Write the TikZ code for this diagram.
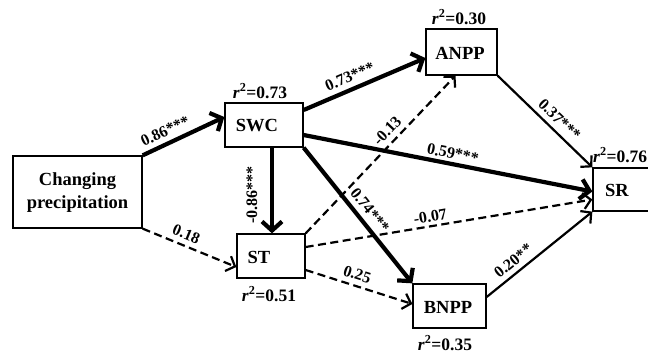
\documentclass[tikz,border=0pt]{standalone}
\usepackage{fontspec}
\setmainfont{Liberation Serif}
\usetikzlibrary{arrows.meta}
\begin{document}
\begin{tikzpicture}[x=1pt,y=-1pt,
  box/.style={draw, line width=1.3pt, inner sep=0pt},
  boxtext/.style={font=\fontsize{18.5}{23}\selectfont\bfseries, align=center, inner sep=0pt},
  rtwo/.style={font=\fontsize{17.5}{19}\selectfont\bfseries, inner sep=0pt},
  elab/.style={font=\fontsize{16}{17}\selectfont\bfseries, inner sep=5pt},
  thickarr/.style={line width=4.2pt, -{Straight Barb[length=9pt,width=20pt]}},
  thinarr/.style={line width=2.2pt, -{Straight Barb[length=7.5pt,width=16pt]}},
  dasharr/.style={line width=2.2pt, dash pattern=on 8pt off 4.5pt, -{Straight Barb[length=7.5pt,width=16pt]}}
]
\useasboundingbox (0,0) rectangle (648,354);
\clip (0,0) rectangle (648,354);
\fill[white] (0,0) rectangle (648,354);

% boxes
\node[box, minimum width=129pt, minimum height=72pt] (CP) at (77.5,192) {};
\node[boxtext] (CPt) at (77.5,193) {Changing\\precipitation};
\node[box, minimum width=78pt, minimum height=44pt] (SWC) at (264,125) {};
\node[boxtext] (SWCt) at (257,126) {SWC};
\node[box, minimum width=71pt, minimum height=46pt] (ANPP) at (461.5,52) {};
\node[boxtext] (ANPPt) at (460,53) {ANPP};
\node[box, minimum width=68pt, minimum height=44pt] (ST) at (271,256) {};
\node[boxtext] (STt) at (259,257) {ST};
\node[box, minimum width=73pt, minimum height=44pt] (BNPP) at (449.5,306) {};
\node[boxtext] (BNPPt) at (448,307) {BNPP};
\node[box, minimum width=80pt, minimum height=43pt] (SR) at (633,189.5) {};
\node[boxtext] (SRt) at (617,190) {SR};

% r^2 labels
\node[rtwo] (r1) at (260,91) {\itshape r\textsuperscript{\upshape 2}\upshape =0.73};
\node[rtwo] (r2) at (459,17) {\itshape r\textsuperscript{\upshape 2}\upshape =0.30};
\node[rtwo] (r3) at (269,294) {\itshape r\textsuperscript{\upshape 2}\upshape =0.51};
\node[rtwo] (r4) at (445,343) {\itshape r\textsuperscript{\upshape 2}\upshape =0.35};
\node[rtwo, anchor=west] (r5) at (593,155) {\itshape r\textsuperscript{\upshape 2}\upshape =0.76};

% connectors
\draw[thickarr] (CP.north east) -- ([yshift=8pt]SWC.west)
  node[elab, pos=0.34, sloped, above] {0.86***};
\draw[dasharr] (CP.south east) -- ([yshift=-11pt]ST.west)
  node[elab, pos=0.42, sloped, above] {0.18};
\draw[thickarr] ([yshift=15pt]SWC.east) -- ([yshift=-6pt]ANPP.west)
  node[elab, pos=0.42, sloped, above] {0.73***};
\draw[thickarr] ([xshift=8pt]SWC.south) -- ([xshift=1pt]ST.north);
\node[elab, rotate=90, inner sep=0pt] (l86) at (252,195) {-0.86***};
\draw[thickarr] ([yshift=-10pt]SWC.east) -- ([yshift=-2pt]SR.west)
  node[elab, pos=0.51, sloped, above, inner sep=3pt] {0.59***};
\draw[thickarr] (SWC.south east) -- (BNPP.north west)
  node[elab, pos=0.52, sloped, above] {0.74***};
\draw[dasharr] (ST.north east) -- ([xshift=-6pt]ANPP.south)
  node[elab, pos=0.6, sloped, above] {-0.13};
\draw[dasharr] ([yshift=9pt]ST.east) -- ([yshift=-10pt]SR.west)
  node[elab, pos=0.44, sloped, above, inner sep=3pt] {-0.07};
\draw[dasharr] ([yshift=-14pt]ST.east) -- ([yshift=2pt]BNPP.west)
  node[elab, pos=0.45, sloped, above] {0.25};
\draw[thinarr] (ANPP.south east) -- (SR.north west)
  node[elab, pos=0.57, sloped, above] {0.37***};
\draw[thinarr] ([yshift=9pt]BNPP.east) -- (SR.south west)
  node[elab, pos=0.32, sloped, above] {0.20**};
\end{tikzpicture}
\end{document}
